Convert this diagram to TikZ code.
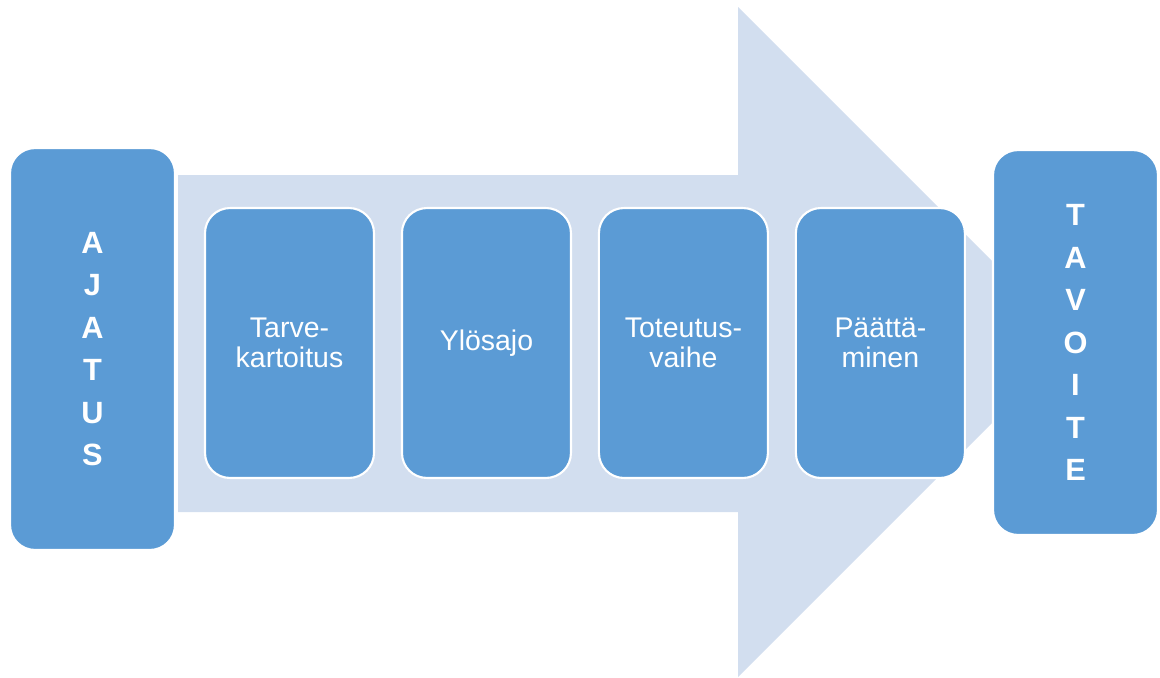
\documentclass[tikz,border=0pt]{standalone}
\usepackage{fontspec}
\setmainfont{Liberation Sans}
\usetikzlibrary{positioning}
\definecolor{boxblue}{HTML}{5B9BD5}
\definecolor{arrowblue}{HTML}{D2DEEF}
\tikzset{%
  stagebox/.style={rectangle, rounded corners=0.5cm, fill=boxblue, draw=white,
    line width=1.2pt, outer sep=0pt, inner sep=0pt, minimum width=3.38cm,
    minimum height=5.4cm, align=center, text=white,
    font=\fontsize{16.2}{17.2}\selectfont},
  endbox/.style={rectangle, rounded corners=0.5cm, fill=boxblue, draw=white,
    line width=1.2pt, outer sep=0pt, inner sep=0pt, minimum width=3.3cm,
    align=center, text=white, font=\fontsize{17.5}{24.2}\selectfont\bfseries}
}
\begin{document}
\begin{tikzpicture}[x=0.02cm, y=-0.02cm]
  \useasboundingbox (0,0) rectangle (1160,677);
  % big arrow behind
  \fill[arrowblue] (178,175) -- (738,175) -- (738,7) -- (1073,342)
    -- (738,677) -- (738,512) -- (178,512) -- cycle;
  \node[endbox, minimum height=8.04cm] (ajatus) at (92.5,349) {A\\J\\A\\T\\U\\S};
  \node[stagebox] (tarve) at (289.5,343) {Tarve-\\kartoitus};
  \node[stagebox, right=0.56cm of tarve] (ylos) {Ylösajo};
  \node[stagebox, right=0.56cm of ylos] (toteutus) {Toteutus-\\vaihe};
  \node[stagebox, right=0.56cm of toteutus] (paatta) {Päättä-\\minen};
  \node[endbox, minimum height=7.7cm] (tavoite) at (1075.5,342.5) {T\\A\\V\\O\\I\\T\\E};
\end{tikzpicture}
\end{document}
